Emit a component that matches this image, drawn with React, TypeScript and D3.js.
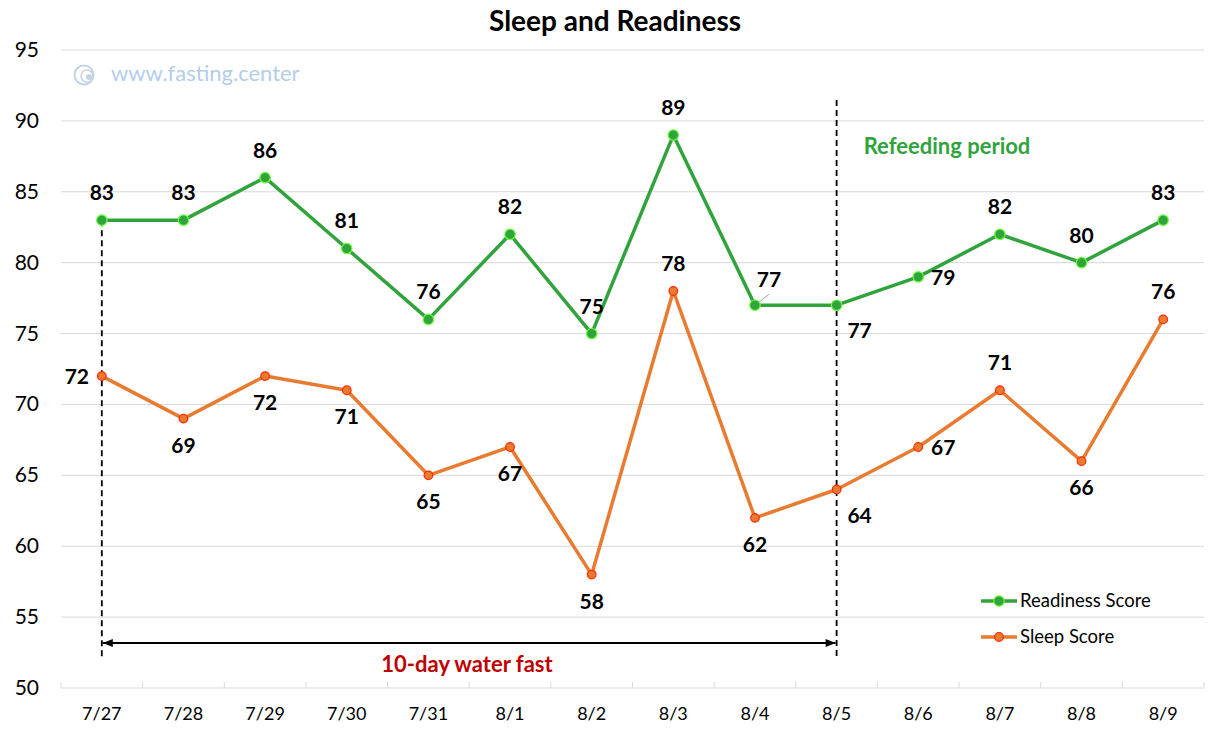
import React from "react";
import * as d3 from "d3";

const dates = ["7/27","7/28","7/29","7/30","7/31","8/1","8/2","8/3","8/4","8/5","8/6","8/7","8/8","8/9"];
const readiness = [83,83,86,81,76,82,75,89,77,77,79,82,80,83];
const sleep = [72,69,72,71,65,67,58,78,62,64,67,71,66,76];
const yTicks = [50,55,60,65,70,75,80,85,90,95];
const readinessPlacement = ["above","above","above","above","above","above","above","above","aboveRight","belowRight","right","above","above","above"];
const sleepPlacement = ["left","below","below","below","below","below","below","above","below","belowRight","right","above","below","above"];

const W = 1223, H = 734;
const M = { left: 61, right: 1204, top: 50, bottom: 688 };
const FONT = "Lato, 'Open Sans', sans-serif";

const GREEN = "#31A33D";
const ORANGE = "#E97B30";

function offset(p: string): [number, number] {
  switch (p) {
    case "above": return [0, -20];
    case "below": return [0, 34];
    case "left": return [-25, 8];
    case "right": return [25, 8];
    case "aboveRight": return [14, -18];
    case "belowRight": return [23, 33];
    default: return [0, -20];
  }
}

export default function App() {
  const x = d3.scaleBand<string>().domain(dates).range([M.left, M.right]);
  const y = d3.scaleLinear().domain([50, 95]).range([M.bottom, M.top]);
  const cx = (d: string) => (x(d) as number) + x.bandwidth() / 2;
  const line = d3.line<number>().x((_, i) => cx(dates[i])).y((v) => y(v));

  const startX = cx(dates[0]);
  const endX = cx(dates[9]);
  const arrowY = 643;

  return (
    <svg width={W} height={H} style={{ position: "absolute", left: 0, top: 0, background: "#fff" }} fontFamily={FONT}>
      <defs>
        <marker id="ah" viewBox="0 0 10 10" refX="10" refY="5" markerWidth="5.5" markerHeight="5" orient="auto-start-reverse" markerUnits="strokeWidth">
          <path d="M0,1 L10,5 L0,9 Z" fill="#000" />
        </marker>
      </defs>
      <rect width={W} height={H} fill="#fff" />
      <text x={615} y={31} textAnchor="middle" fontSize={28} fontWeight="bold" fill="#000">Sleep and Readiness</text>

      {yTicks.filter(t => t > 50).map(t => (
        <line key={t} x1={M.left} x2={M.right} y1={y(t)} y2={y(t)} stroke="#d9d9d9" strokeWidth={1} />
      ))}
      <line x1={M.left} x2={M.right} y1={y(50)} y2={y(50)} stroke="#d9d9d9" strokeWidth={1.2} />
      {d3.range(dates.length + 1).map(i => {
        const xx = M.left + i * x.bandwidth();
        return <line key={i} x1={xx} x2={xx} y1={y(50) - 6} y2={y(50)} stroke="#d9d9d9" strokeWidth={1} />;
      })}
      {yTicks.map(t => (
        <text key={t} x={39} y={y(t) + 7} textAnchor="end" fontSize={21} fill="#000">{t}</text>
      ))}
      {dates.map(d => (
        <text key={d} x={cx(d)} y={720} textAnchor="middle" fontSize={18} fill="#000">{d}</text>
      ))}

      <g>
        <circle cx={84} cy={75} r={9.5} fill="none" stroke="#c5d3e3" strokeWidth={2} />
        <circle cx={87} cy={76} r={6} fill="none" stroke="#c5d3e3" strokeWidth={1.5} />
        <circle cx={89} cy={77} r={3} fill="#c5d3e3" />
        <text x={111} y={81} fontSize={22} fill="#b4cde8">www.fasting.center</text>
      </g>

      <line x1={startX} x2={startX} y1={y(readiness[0])} y2={657} stroke="#000" strokeWidth={1.8} strokeDasharray="6,4" />
      <line x1={endX} x2={endX} y1={100} y2={657} stroke="#000" strokeWidth={1.8} strokeDasharray="6,4" />
      <line x1={startX + 1} x2={endX - 1} y1={arrowY} y2={arrowY} stroke="#000" strokeWidth={2} markerStart="url(#ah)" markerEnd="url(#ah)" />
      <text x={467} y={672} textAnchor="middle" fontSize={22} fontWeight="bold" fill="#C00000">10-day water fast</text>
      <text x={947} y={154} textAnchor="middle" fontSize={22} fontWeight="bold" fill={GREEN}>Refeeding period</text>

      <path d={line(readiness) as string} fill="none" stroke={GREEN} strokeWidth={3.5} strokeLinejoin="round" />
      <path d={line(sleep) as string} fill="none" stroke={ORANGE} strokeWidth={3.5} strokeLinejoin="round" />

      <line x1={cx(dates[8]) + 4} y1={y(readiness[8]) - 3} x2={cx(dates[8]) + 14} y2={y(readiness[8]) - 11} stroke="#a6a6a6" strokeWidth={1} />

      {readiness.map((v, i) => (
        <circle key={"r" + i} cx={cx(dates[i])} cy={y(v)} r={5.2} fill={GREEN} stroke="#66FF33" strokeWidth={1.2} />
      ))}
      {sleep.map((v, i) => (
        <circle key={"s" + i} cx={cx(dates[i])} cy={y(v)} r={4.3} fill={ORANGE} stroke="#FF2A00" strokeWidth={1.2} />
      ))}

      {readiness.map((v, i) => {
        const [dx, dy] = offset(readinessPlacement[i]);
        return <text key={"rl" + i} x={cx(dates[i]) + dx} y={y(v) + dy} textAnchor="middle" fontSize={21} fontWeight="bold" fill="#000">{v}</text>;
      })}
      {sleep.map((v, i) => {
        const [dx, dy] = offset(sleepPlacement[i]);
        return <text key={"sl" + i} x={cx(dates[i]) + dx} y={y(v) + dy} textAnchor="middle" fontSize={21} fontWeight="bold" fill="#000">{v}</text>;
      })}

      <g>
        <line x1={981} x2={1017} y1={601} y2={601} stroke={GREEN} strokeWidth={3.5} />
        <circle cx={999} cy={601} r={5.2} fill={GREEN} stroke="#66FF33" strokeWidth={1.2} />
        <text x={1020} y={607} fontSize={18.5} fill="#000">Readiness Score</text>
        <line x1={981} x2={1017} y1={637} y2={637} stroke={ORANGE} strokeWidth={3.5} />
        <circle cx={999} cy={637} r={4.3} fill={ORANGE} stroke="#FF2A00" strokeWidth={1.2} />
        <text x={1020} y={643} fontSize={18.5} fill="#000">Sleep Score</text>
      </g>
    </svg>
  );
}
